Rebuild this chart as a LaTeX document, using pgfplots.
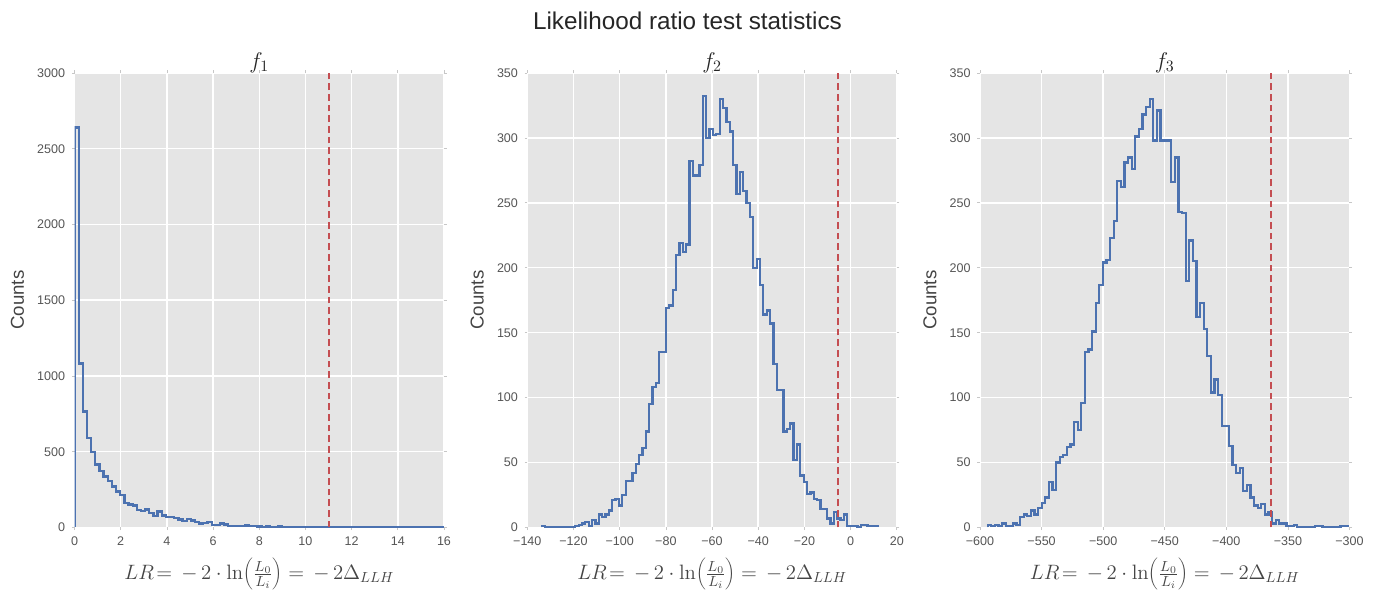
\RequirePackage{fix-cm}
\documentclass[border=0pt]{standalone}
\usepackage[no-math]{fontspec}
\setmainfont{Liberation Sans}
\usepackage{pgfplots}
\pgfplotsset{compat=1.18}
\usepackage{pgfplotstable}
\definecolor{bgc}{HTML}{E5E5E5}
\definecolor{lineblue}{HTML}{4C72B0}
\definecolor{linered}{HTML}{C44E52}
\definecolor{ticktext}{HTML}{555555}
\definecolor{labeltext}{HTML}{444444}
\definecolor{titletext}{HTML}{262626}

% f1: bin index i, count c (bin width 0.18, start 0)
\pgfplotstableread{
i c
0 0
0 2640
1 1082
2 766
3 593
4 498
5 416
6 372
7 337
8 306
9 271
10 238
11 214
12 163
13 152
14 145
15 117
16 110
17 119
18 97
19 77
20 106
21 79
22 68
23 68
24 64
25 53
26 42
27 57
28 46
29 35
30 26
31 28
32 35
33 18
34 18
35 27
36 20
37 11
38 11
39 8
40 10
41 14
42 10
43 8
44 6
45 5
46 7
47 4
48 5
49 6
50 4
51 5
52 3
53 4
54 4
55 3
56 3
57 2
58 3
59 2
60 2
61 1
62 2
63 1
64 2
65 1
66 1
67 0
68 1
69 2
70 1
71 5
72 1
73 0
74 1
75 0
76 0
77 1
78 0
79 0
80 1
81 0
82 0
83 0
84 0
85 1
86 0
87 0
88 0
89 0
}\dataA

% f2: bin index i, count c (start -133.77, width 1.4545)
\pgfplotstableread{
i c
0 0
0 1
1 0
2 0
3 0
4 0
5 0
6 0
7 0
8 0
9 0
10 1
11 2
12 3
13 4
14 1
15 6
16 3
17 10
18 8
19 10
20 13
21 21
22 22
23 17
24 25
25 36
26 36
27 42
28 49
29 56
30 61
31 74
32 95
33 108
34 111
35 135
36 135
37 169
38 171
39 183
40 210
41 219
42 212
43 218
44 282
45 271
46 271
47 279
48 332
49 300
50 307
51 302
52 303
53 330
54 323
55 312
56 305
57 279
58 257
59 274
60 259
61 250
62 239
63 200
64 207
65 187
66 164
67 167
68 157
69 126
70 106
71 106
72 74
73 76
74 80
75 52
76 64
77 40
78 35
79 26
80 27
81 22
82 21
83 14
84 14
85 7
86 3
87 12
88 7
89 6
90 10
91 1
92 1
93 1
94 0
95 2
96 2
97 1
98 1
99 1
100 0
}\dataB

% f3: bin index i, count c (start -593.8, width 2.924)
\pgfplotstableread{
i c
0 0
0 2
1 1
2 2
3 1
4 3
5 1
6 1
7 3
8 2
9 8
10 10
11 9
12 13
13 10
14 15
15 19
16 23
17 35
18 29
19 50
20 54
21 56
22 62
23 64
24 81
25 75
26 96
27 135
28 137
29 151
30 173
31 187
32 204
33 206
34 223
35 236
36 267
37 262
38 281
39 285
40 276
41 301
42 307
43 318
44 324
45 330
46 298
47 321
48 298
49 298
50 298
51 266
52 285
53 243
54 242
55 190
56 221
57 205
58 162
59 173
60 153
61 132
62 104
63 114
64 102
65 78
66 78
67 63
68 48
69 42
70 46
71 28
72 33
73 23
74 17
75 15
76 18
77 10
78 12
79 3
80 6
81 3
82 3
83 1
84 1
85 2
86 0
87 0
88 0
89 0
90 0
91 1
92 1
93 0
94 0
95 0
96 0
97 0
98 1
99 1
100 0
}\dataC

\pgfplotsset{
  hist/.style={
    scale only axis, width=277.1pt, height=340.9pt,
    axis background/.style={fill=bgc},
    axis line style={draw=none},
    grid=major, major grid style={white, line width=1.1pt},
    tick align=outside, major tick length=2pt,
    tick style={draw=black!22, line width=0.5pt},
    tick pos=both, xticklabel pos=lower, yticklabel pos=left,
    tick label style={font=\fontsize{9.4}{11}\selectfont, text=ticktext},
    xticklabel style={inner sep=1pt, yshift=-3.9pt},
    yticklabel style={xshift=-1.5pt},
    /pgf/number format/assume math mode=true,
    /pgf/number format/1000 sep={},
    scaled ticks=false,
    title style={font=\fontsize{17}{20}\selectfont, text=titletext, at={(0.5,1)}, anchor=south, inner sep=0pt, yshift=-6pt},
    ylabel={Counts},
    ylabel style={font=\fontsize{14}{16}\selectfont, text=labeltext},
    ylabel shift=3pt,
    xlabel={$LR\!=\,-\,2\cdot\ln\!\left(\frac{L_0}{L_i}\right)=\,-\,2\Delta_{LLH}$},
    xlabel style={font=\fontsize{15.6}{18}\selectfont, text=labeltext,
      at={(axis description cs:0.5,0)}, anchor=north, inner sep=0pt, yshift=-23pt},
    ymin=0,
  },
  histline/.style={lineblue, line width=1.7pt, const plot mark left},
  redline/.style={linered, line width=1.5pt, dash pattern=on 5pt off 3pt},
}

\begin{document}
\begin{tikzpicture}
\begin{axis}[hist, at={(55.875pt,47.625pt)}, anchor=south west,
  title={$f_1$}, xmin=0, xmax=16, xtick={0,2,...,16},
  ymax=3000, ytick={0,500,...,3000}]
  \addplot[histline] table[x expr=\thisrow{i}*0.18, y=c]{\dataA};
  \addplot[redline] coordinates {(11,0) (11,3000)};
\end{axis}
\begin{axis}[hist, at={(395.475pt,47.625pt)}, anchor=south west,
  title={$f_2$}, xmin=-140, xmax=20, xtick={-140,-120,...,20},
  xticklabels={−140,−120,−100,−80,−60,−40,−20,0,20},
  ymax=350, ytick={0,50,...,350}]
  \addplot[histline] table[x expr=-133.77+1.4545*\thisrow{i}, y=c]{\dataB};
  \addplot[redline] coordinates {(-5.3,0) (-5.3,350)};
\end{axis}
\begin{axis}[hist, at={(735pt,47.625pt)}, anchor=south west,
  title={$f_3$}, xmin=-600, xmax=-300, xtick={-600,-550,...,-300},
  xticklabels={−600,−550,−500,−450,−400,−350,−300},
  ymax=350, ytick={0,50,...,350}]
  \addplot[histline] table[x expr=-593.8+2.924*\thisrow{i}, y=c]{\dataC};
  \addplot[redline] coordinates {(-363.4,0) (-363.4,350)};
\end{axis}
\node[font=\fontsize{18.2}{22}\selectfont, text=titletext, anchor=base] at (515.6pt,420.75pt) {Likelihood ratio test statistics};
\pgfresetboundingbox
\path[use as bounding box] (0,0) rectangle (1034.25pt,443.25pt);
\end{tikzpicture}
\end{document}
